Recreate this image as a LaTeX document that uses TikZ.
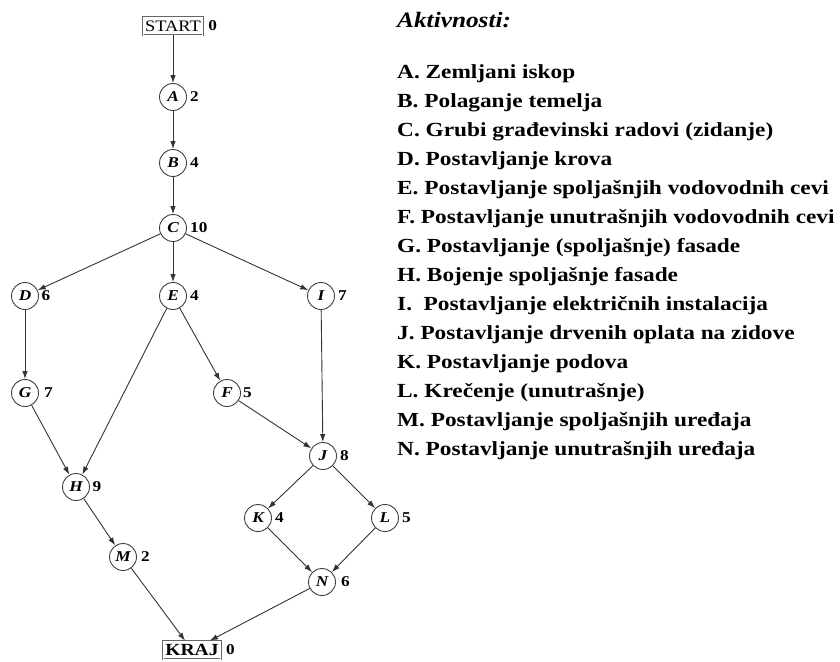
\documentclass[tikz,border=0pt]{standalone}
\usepackage{fontspec}
\setmainfont{Liberation Serif}
\newfontfamily\widefont[FakeStretch=1.15]{Liberation Serif}
\newfontfamily\listfont[FakeStretch=1.165]{Liberation Serif}
\usetikzlibrary{arrows.meta}
\begin{document}
\begin{tikzpicture}[x=1pt,y=-1pt,
  act/.style={circle,draw=black!75,line width=0.9pt,minimum size=27pt,inner sep=0pt,
    font=\widefont\fontsize{15}{15}\selectfont\itshape\bfseries},
  endbox/.style={draw=black!60,double=white,double distance=0.8pt,line width=0.7pt,
    inner sep=2pt,minimum height=18pt,font=\widefont\fontsize{16}{16}\selectfont},
  dur/.style={font=\widefont\fontsize{15}{15}\selectfont\bfseries,inner sep=1pt},
  arr/.style={-{Latex[length=8pt,width=5.5pt]},draw=black!80,line width=0.9pt},
  item/.style={anchor=west,inner sep=0pt,font=\listfont\fontsize{20}{20}\selectfont\bfseries}
]
\useasboundingbox (0,0) rectangle (840,661);

% activity nodes
\node[endbox] (start) at (173,26) {START};
\node[dur,anchor=west] at ([xshift=4pt]start.east) {0};
\node[act,label={[dur,label distance=2pt]right:2}] (A) at (173,97) {A};
\node[act,label={[dur,label distance=2pt]right:4}] (B) at (173,163) {B};
\node[act,label={[dur,label distance=2pt]right:10}] (C) at (173,228) {C};
\node[act,label={[dur,label distance=1.5pt]right:6}] (D) at (25,296) {D};
\node[act,label={[dur,label distance=2pt]right:4}] (E) at (173,296) {E};
\node[act,label={[dur,label distance=2pt]right:7}] (I) at (321,296) {I};
\node[act,label={[dur,label distance=4pt]right:7}] (G) at (25,393) {G};
\node[act,label={[dur,label distance=1pt]right:5}] (F) at (227,393) {F};
\node[act,label={[dur,label distance=2pt]right:8}] (J) at (323,456) {J};
\node[act,label={[dur,label distance=1.5pt]right:9}] (H) at (76,487) {H};
\node[act,label={[dur,label distance=2pt]right:4}] (K) at (258,518) {K};
\node[act,label={[dur,label distance=2pt]right:5}] (L) at (385,518) {L};
\node[act,label={[dur,label distance=3pt]right:2}] (M) at (123,557) {M};
\node[act,label={[dur,label distance=4pt]right:6}] (N) at (322,582) {N};
\node[endbox,font=\widefont\fontsize{17}{17}\selectfont\bfseries] (kraj) at (192,650) {KRAJ};
\node[dur,anchor=west] at ([xshift=4pt]kraj.east) {0};

% precedence arrows
\draw[arr] (start) -- (A);
\draw[arr] (A) -- (B);
\draw[arr] (B) -- (C);
\draw[arr] (C) -- (D);
\draw[arr] (C) -- (E);
\draw[arr] (C) -- (I);
\draw[arr] (D) -- (G);
\draw[arr] (E) -- (H);
\draw[arr] (E) -- (F);
\draw[arr] (I) -- (J);
\draw[arr] (G) -- (H);
\draw[arr] (F) -- (J);
\draw[arr] (J) -- (K);
\draw[arr] (J) -- (L);
\draw[arr] (H) -- (M);
\draw[arr] (K) -- (N);
\draw[arr] (L) -- (N);
\draw[arr] (M) -- (kraj);
\draw[arr] (N) -- (kraj);

% activity list
\node[item,font=\widefont\fontsize{22}{22}\selectfont\bfseries\itshape] (title) at (397,20) {Aktivnosti:};
\foreach \t [count=\i from 0] in {
  A. Zemljani iskop,
  B. Polaganje temelja,
  C. Grubi građevinski radovi (zidanje),
  D. Postavljanje krova,
  E. Postavljanje spoljašnjih vodovodnih cevi,
  F. Postavljanje unutrašnjih vodovodnih cevi,
  G. Postavljanje (spoljašnje) fasade,
  H. Bojenje spoljašnje fasade,
  I.\ \ Postavljanje električnih instalacija,
  J. Postavljanje drvenih oplata na zidove,
  K. Postavljanje podova,
  L. Krečenje (unutrašnje),
  M. Postavljanje spoljašnjih uređaja,
  N. Postavljanje unutrašnjih uređaja}
  \node[item] (item\i) at (397,{74+29*\i}) {\t};
\end{tikzpicture}
\end{document}
